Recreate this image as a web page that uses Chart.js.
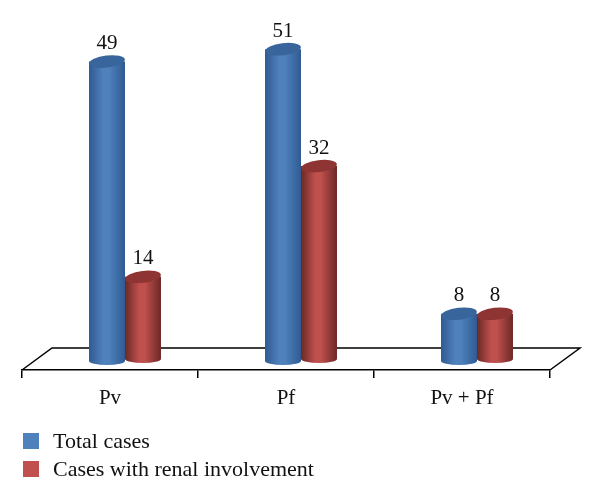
<!DOCTYPE html>
<html>
<head>
<meta charset="utf-8">
<script src="https://cdn.jsdelivr.net/npm/chart.js@4"></script>
<style>
    html, body { margin: 0; padding: 0; background: #fff; }
    #wrap { position: relative; width: 600px; height: 502px; overflow: hidden; }
    #legend { position: absolute; left: 23px; top: 427px; font: 22px "Liberation Serif", serif; color: #111; }
    .row { display: flex; align-items: center; height: 28px; }
    .swatch { width: 16px; height: 16px; margin-right: 14px; }
</style>
</head>
<body>
<div id="wrap">
    <canvas id="chart" width="600" height="502"></canvas>
    <div id="legend"></div>
</div>
<script>
const categories = ['Pv', 'Pf', 'Pv + Pf'];
const totalCases = [49, 51, 8];
const renalCases = [14, 32, 8];

const seriesNames = ['Total cases', 'Cases with renal involvement'];
const seriesColors = ['#4f81bd', '#c0504d'];
const edgeColors = ['#2f5b91', '#6b2826'];
const capColors = ['#38659b', '#8e3533'];

// The picture is a fake 3D chart: bars sit back from the axis on a floor
const floorDepthX = 30;
const floorDepthY = 22;
const barShiftX = 15;
const capHeight = 6;
const baseLift = [2, 4];

const cylinderPlugin = {
    id: 'cylinders',
    beforeDatasetsDraw(chart) {
        const { ctx, chartArea: area } = chart;
        ctx.save();
        ctx.strokeStyle = '#000';
        ctx.lineWidth = 1.5;
        ctx.beginPath();
        ctx.moveTo(area.left, area.bottom);
        ctx.lineTo(area.left + floorDepthX, area.bottom - floorDepthY);
        ctx.lineTo(area.right + floorDepthX, area.bottom - floorDepthY);
        ctx.lineTo(area.right, area.bottom);
        ctx.stroke();
        ctx.restore();
    },
    afterDatasetsDraw(chart) {
        const { ctx } = chart;
        chart.data.datasets.forEach((dataset, i) => {
            chart.getDatasetMeta(i).data.forEach((bar, j) => {
                const half = bar.width / 2;
                const cx = bar.x + barShiftX;
                const left = cx - half;
                const right = cx + half;
                const top = bar.y;
                const base = bar.base - baseLift[i];

                const grad = ctx.createLinearGradient(left, 0, right, 0);
                grad.addColorStop(0, edgeColors[i]);
                grad.addColorStop(0.4, seriesColors[i]);
                grad.addColorStop(0.55, seriesColors[i]);
                grad.addColorStop(1, edgeColors[i]);

                ctx.save();
                ctx.fillStyle = grad;
                ctx.beginPath();
                ctx.moveTo(left, top);
                ctx.lineTo(left, base);
                ctx.ellipse(cx, base, half, 4, 0, Math.PI, 0, true);
                ctx.lineTo(right, top);
                ctx.closePath();
                ctx.fill();

                ctx.fillStyle = capColors[i];
                ctx.beginPath();
                ctx.ellipse(cx, top, half, capHeight, -0.12, 0, Math.PI * 2);
                ctx.fill();

                ctx.fillStyle = '#111';
                ctx.font = '21px "Liberation Serif", serif';
                ctx.textAlign = 'center';
                ctx.textBaseline = 'middle';
                ctx.fillText(String(dataset.data[j]), cx, top - 18);
                ctx.restore();
            });
        });
    }
};

new Chart(document.getElementById('chart'), {
    type: 'bar',
    data: {
        labels: categories,
        datasets: [
            // real bars stay invisible, the plugin paints cylinders over their geometry
            { label: seriesNames[0], data: totalCases, backgroundColor: 'transparent' },
            { label: seriesNames[1], data: renalCases, backgroundColor: 'transparent' }
        ]
    },
    options: {
        responsive: false,
        animation: false,
        layout: { padding: { left: 22, right: 50, top: 0, bottom: 0 } },
        datasets: { bar: { barPercentage: 1, categoryPercentage: 0.409 } },
        plugins: { legend: { display: false }, tooltip: { enabled: false } },
        scales: {
            x: {
                afterFit(scale) { scale.height = 132; },
                grid: { drawOnChartArea: false, drawTicks: true, tickLength: 8, color: '#000', lineWidth: 1.5 },
                border: { color: '#000', width: 1.5 },
                ticks: {
                    color: '#111',
                    padding: 8,
                    maxRotation: 0,
                    font: { family: '"Liberation Serif", serif', size: 21 }
                }
            },
            y: { display: false, min: -1.14, max: 59 }
        }
    },
    plugins: [cylinderPlugin]
});

document.getElementById('legend').innerHTML = seriesNames.map((name, i) => `
    <div class="row"><span class="swatch" style="background:${seriesColors[i]}"></span>${name}</div>
`).join('');
</script>
</body>
</html>
